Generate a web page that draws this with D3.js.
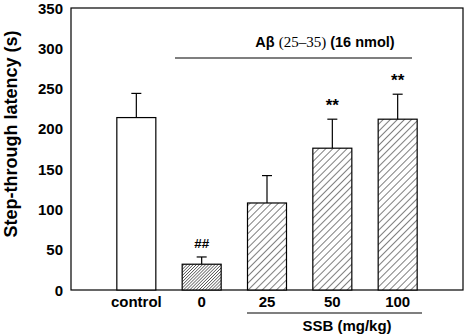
<!DOCTYPE html>
<html>
<head>
<meta charset="utf-8">
<script src="https://cdn.jsdelivr.net/npm/d3@7"></script>
<style>
  body { margin: 0; background: #fff; }
  text { font-family: Arial, "Liberation Sans", sans-serif; font-weight: bold; fill: #000; }
</style>
</head>
<body>
<svg id="chart" width="468" height="336"></svg>
<script>
// data
const groups = ["control", "0", "25", "50", "100"];
const means = [214, 32, 108, 176, 212];
const errors = [30, 9, 34, 36, 31];
const marks = ["", "##", "", "**", "**"];
const yTicks = [0, 50, 100, 150, 200, 250, 300, 350];

const svg = d3.select("#chart");
const plotL = 71, plotR = 463, plotT = 8, plotB = 290;

const y = d3.scaleLinear().domain([0, 350]).range([plotB, plotT]);
const step = (plotR - plotL) / 6;
const x = d3.scalePoint().domain(groups).range([plotL + step, plotR - step]);
const barW = 39;

// hatch patterns
const defs = svg.append("defs");
function hatch(id, gap) {
    const p = defs.append("pattern")
        .attr("id", id).attr("patternUnits", "userSpaceOnUse")
        .attr("width", gap).attr("height", gap)
        .attr("patternTransform", "rotate(45)");
    p.append("rect").attr("width", gap).attr("height", gap).attr("fill", "#fff");
    p.append("line").attr("x1", 0).attr("y1", 0).attr("x2", 0).attr("y2", gap)
        .attr("stroke", "#000").attr("stroke-width", 1);
}
hatch("dense", 2.2);
hatch("sparse", 5);

// frame
svg.append("rect")
    .attr("x", plotL).attr("y", plotT)
    .attr("width", plotR - plotL).attr("height", plotB - plotT)
    .attr("fill", "none").attr("stroke", "#000").attr("stroke-width", 1.2);

// y tick labels
svg.append("g").selectAll("text").data(yTicks).enter().append("text")
    .attr("x", plotL - 8).attr("y", d => y(d) + 5.5)
    .attr("text-anchor", "end").attr("font-size", 15)
    .text(d => d);

svg.append("text")
    .attr("transform", "translate(17,134) rotate(-90)")
    .attr("text-anchor", "middle").attr("font-size", 18)
    .text("Step-through latency (s)");

// error bars
const eb = svg.append("g").attr("stroke", "#000").attr("stroke-width", 1.2);
groups.forEach((g, i) => {
    const cx = x(g);
    eb.append("line").attr("x1", cx).attr("x2", cx)
        .attr("y1", y(means[i])).attr("y2", y(means[i] + errors[i]));
    eb.append("line").attr("x1", cx - 5).attr("x2", cx + 5)
        .attr("y1", y(means[i] + errors[i])).attr("y2", y(means[i] + errors[i]));
});

// bars
svg.append("g").selectAll("rect").data(groups).enter().append("rect")
    .attr("x", d => x(d) - barW / 2)
    .attr("y", (d, i) => y(means[i]))
    .attr("width", barW)
    .attr("height", (d, i) => y(0) - y(means[i]))
    .attr("fill", (d, i) => i === 0 ? "#fff" : (i === 1 ? "url(#dense)" : "url(#sparse)"))
    .attr("stroke", "#000").attr("stroke-width", 1.2);

// significance marks
svg.append("g").selectAll("text").data(groups).enter().append("text")
    .attr("x", d => x(d))
    .attr("y", (d, i) => y(means[i] + errors[i]) - (marks[i] === "**" ? 8 : 9))
    .attr("text-anchor", "middle")
    .attr("font-size", (d, i) => marks[i] === "**" ? 17 : 13.5)
    .text((d, i) => marks[i]);

// category labels
svg.append("g").selectAll("text").data(groups).enter().append("text")
    .attr("x", d => x(d)).attr("y", 307)
    .attr("text-anchor", "middle").attr("font-size", 15)
    .text(d => d);

// A-beta bracket
svg.append("line")
    .attr("x1", 175).attr("x2", 412).attr("y1", 58).attr("y2", 58)
    .attr("stroke", "#000").attr("stroke-width", 1.2);
const ab = svg.append("text").attr("x", 325).attr("y", 47)
    .attr("text-anchor", "middle").attr("font-size", 14.5);
ab.append("tspan").text("Aβ ");
ab.append("tspan").attr("font-family", "'Liberation Serif', 'DejaVu Serif', serif")
    .attr("font-weight", "normal").attr("font-size", 15).text("(25–35)");
ab.append("tspan").text(" (16 nmol)");

// SSB bracket
svg.append("line")
    .attr("x1", 247).attr("x2", 422).attr("y1", 313).attr("y2", 313)
    .attr("stroke", "#000").attr("stroke-width", 1.2);
svg.append("text").attr("x", 347).attr("y", 331)
    .attr("text-anchor", "middle").attr("font-size", 15)
    .text("SSB (mg/kg)");
</script>
</body>
</html>
